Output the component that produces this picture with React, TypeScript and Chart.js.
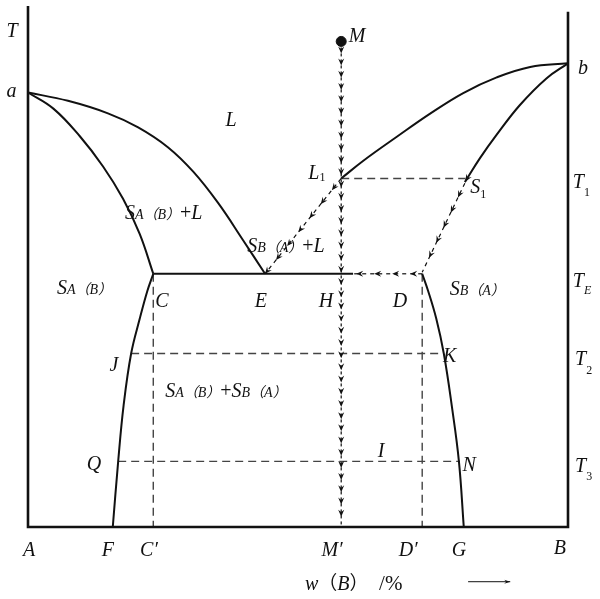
import React, { useEffect, useRef } from "react";
import { Chart, registerables } from "chart.js";
Chart.register(...registerables);

// ---- data (x: w(B)/%, y: temperature, arbitrary units) ----
const T_A = 83.4;
const T_B = 89.0;
const T_1 = 66.9;
const T_E = 48.6;
const T_2 = 33.3;
const T_3 = 12.6;
const T_M = 93.2;
const T_TOP_RIGHT = 98.9;

const xC = 23.2;
const xE = 43.9;
const xM = 58.0;
const xS1 = 81.0;
const xD = 73.0;
const xJ = 19.1;
const xK = 77.0;
const xQ = 16.7;
const xN = 80.0;
const xEutecticEnd = 60.2;

const liquidusLeft: [number, number][] = [
  [0, T_A], [7.4, 81.8], [14.8, 79.4], [20.4, 76.7], [25.9, 72.9],
  [30.6, 68.2], [35.2, 62.2], [39.8, 55.1], [xE, T_E],
];
const solidusLeft: [number, number][] = [
  [0, T_A], [4.7, 80.3], [9.6, 75.0], [13.9, 69.2], [17.6, 63.0], [20.7, 56.2], [xC, T_E],
];
const liquidusRight: [number, number][] = [
  [100, T_B], [93.0, 88.3], [86.8, 86.3], [80.6, 83.3], [74.4, 79.3],
  [68.3, 74.9], [62.1, 70.3], [xM, T_1],
];
const solidusRight: [number, number][] = [
  [100, T_B], [96.0, 86.1], [91.1, 81.0], [86.8, 75.3], [83.7, 70.8], [80.9, 66.2],
];
const solvusLeft: [number, number][] = [
  [xC, T_E], [22.1, 45.3], [20.7, 40.0], [19.1, 33.3], [17.7, 23.3], [16.7, 12.6], [15.7, 0],
];
const solvusRight: [number, number][] = [
  [xD, T_E], [74.1, 45.3], [75.6, 40.0], [77.0, 33.3], [78.5, 23.1], [79.8, 12.6], [80.7, 0],
];

type Seg = { t: string; s?: number; dy?: number; up?: boolean };
type Label = { x: number; y: number; c?: boolean; segs: Seg[] };
const SUB = 14;
const sub = (t: string): Seg => ({ t, s: SUB });
const labels: Label[] = [
  { x: -2.96, y: 94.07, c: true, segs: [{ t: "T" }] },
  { x: -3.06, y: 82.6, c: true, segs: [{ t: "a" }] },
  { x: 102.8, y: 87.0, c: true, segs: [{ t: "b" }] },
  { x: 37.6, y: 76.9, c: true, segs: [{ t: "L" }] },
  { x: 17.96, y: 59.2, segs: [{ t: "S" }, sub("A（B）"), { t: "+", up: true }, { t: "L" }] },
  { x: 40.6, y: 52.8, segs: [{ t: "S" }, sub("B（A）"), { t: "+", up: true }, { t: "L" }] },
  { x: 5.37, y: 44.7, segs: [{ t: "S" }, sub("A（B）")] },
  { x: 78.1, y: 44.6, segs: [{ t: "S" }, sub("B（A）")] },
  { x: 25.4, y: 24.9, segs: [{ t: "S" }, sub("A（B）"), { t: "+", up: true }, { t: "S" }, sub("B（A）")] },
  { x: 24.8, y: 42.3, c: true, segs: [{ t: "C" }] },
  { x: 43.1, y: 42.3, c: true, segs: [{ t: "E" }] },
  { x: 55.2, y: 42.3, c: true, segs: [{ t: "H" }] },
  { x: 68.9, y: 42.3, c: true, segs: [{ t: "D" }] },
  { x: 100.9, y: 65.0, segs: [{ t: "T" }, { t: "1", s: 12, dy: 8, up: true }] },
  { x: 100.9, y: 46.1, segs: [{ t: "T" }, { t: "E", s: 12, dy: 7 }] },
  { x: 101.3, y: 31.0, segs: [{ t: "T" }, { t: "2", s: 12, dy: 9, up: true }] },
  { x: 101.3, y: 10.5, segs: [{ t: "T" }, { t: "3", s: 12, dy: 8, up: true }] },
  { x: 59.4, y: 93.1, segs: [{ t: "M" }] },
  { x: 51.9, y: 66.7, segs: [{ t: "L" }, { t: "1", s: 12, dy: 2, up: true }] },
  { x: 81.9, y: 64.1, segs: [{ t: "S" }, { t: "1", s: 12, dy: 5, up: true }] },
  { x: 15.9, y: 30.0, c: true, segs: [{ t: "J" }] },
  { x: 78.1, y: 31.7, c: true, segs: [{ t: "K" }] },
  { x: 12.2, y: 10.9, c: true, segs: [{ t: "Q" }] },
  { x: 65.4, y: 13.4, c: true, segs: [{ t: "I" }] },
  { x: 81.7, y: 10.7, c: true, segs: [{ t: "N" }] },
  { x: 0.2, y: -5.5, c: true, segs: [{ t: "A" }] },
  { x: 14.8, y: -5.5, c: true, segs: [{ t: "F" }] },
  { x: 22.4, y: -5.5, c: true, segs: [{ t: "C′" }] },
  { x: 56.3, y: -5.5, c: true, segs: [{ t: "M′" }] },
  { x: 70.4, y: -5.5, c: true, segs: [{ t: "D′" }] },
  { x: 79.8, y: -5.5, c: true, segs: [{ t: "G" }] },
  { x: 98.5, y: -5.2, c: true, segs: [{ t: "B" }] },
  { x: 51.3, y: -12.0, segs: [{ t: "w", s: 20 }, { t: "（", s: 19, up: true }, { t: "B", s: 20 }, { t: "）", s: 19, up: true }, { t: "  /%", s: 21, up: true }] },
];
const directionArrow: [number, number][] = [[81.5, -10.5], [89.3, -10.5]];

const pts = (a: [number, number][]) => a.map(([x, y]) => ({ x, y }));
const INK = "#111";
const DASH = "#444";

function drawHead(ctx: CanvasRenderingContext2D, x: number, y: number, ang: number, L: number, W: number) {
  ctx.save();
  ctx.translate(x, y);
  ctx.rotate(ang);
  ctx.beginPath();
  ctx.moveTo(0, 0);
  ctx.lineTo(-L, -W);
  ctx.lineTo(-L * 0.65, 0);
  ctx.lineTo(-L, W);
  ctx.closePath();
  ctx.fill();
  ctx.restore();
}

const arrowPlugin = {
  id: "arrowheads",
  afterDatasetsDraw(chart: any) {
    const ctx: CanvasRenderingContext2D = chart.ctx;
    chart.data.datasets.forEach((ds: any, i: number) => {
      const o = ds.arrows;
      if (!o) return;
      const meta = chart.getDatasetMeta(i);
      const p = meta.data.map((e: any) => ({ x: e.x, y: e.y, cx: e.cp1x, cy: e.cp1y }));
      const segs: any[] = [];
      let total = 0;
      for (let k = 1; k < p.length; k++) {
        const len = Math.hypot(p[k].x - p[k - 1].x, p[k].y - p[k - 1].y);
        segs.push({ a: p[k - 1], b: p[k], len, s: total });
        total += len;
      }
      ctx.save();
      ctx.fillStyle = o.color || INK;
      const L = o.len || 7, W = o.w || 3;
      if (o.spacing) {
        for (let d = o.start; d <= total + 0.5; d += o.spacing) {
          const sg = segs.find((g) => d <= g.s + g.len + 0.5) || segs[segs.length - 1];
          const t = Math.min(1, (d - sg.s) / sg.len);
          const x = sg.a.x + (sg.b.x - sg.a.x) * t;
          const y = sg.a.y + (sg.b.y - sg.a.y) * t;
          drawHead(ctx, x, y, Math.atan2(sg.b.y - sg.a.y, sg.b.x - sg.a.x), L, W);
        }
      }
      if (o.end) {
        const last = p[p.length - 1];
        const prev = p[p.length - 2];
        let ang = Math.atan2(last.y - prev.y, last.x - prev.x);
        if (last.cx != null && isFinite(last.cx) && (last.cx !== last.x || last.cy !== last.y)) {
          ang = Math.atan2(last.y - last.cy, last.x - last.cx);
        }
        drawHead(ctx, last.x, last.y, ang, L, W);
      }
      ctx.restore();
    });
  },
};

const labelPlugin = {
  id: "phaseLabels",
  afterDraw(chart: any) {
    const ctx: CanvasRenderingContext2D = chart.ctx;
    const xs = chart.scales.x, ys = chart.scales.y;
    ctx.save();
    ctx.fillStyle = INK;
    ctx.textBaseline = "alphabetic";
    ctx.textAlign = "left";
    const font = (g: Seg) =>
      `${g.up ? "normal" : "italic"} ${g.s || 20}px "Liberation Serif", "Noto Sans CJK SC", serif`;
    labels.forEach((lb) => {
      let w = 0;
      lb.segs.forEach((g) => {
        ctx.font = font(g);
        w += ctx.measureText(g.t).width;
      });
      let x = xs.getPixelForValue(lb.x) - (lb.c ? w / 2 : 0);
      const y = ys.getPixelForValue(lb.y);
      lb.segs.forEach((g) => {
        ctx.font = font(g);
        ctx.fillText(g.t, x, y + (g.dy || 0));
        x += ctx.measureText(g.t).width;
      });
    });
    ctx.restore();
  },
};

export default function App() {
  const ref = useRef<HTMLCanvasElement>(null);
  useEffect(() => {
    if (!ref.current) return;
    const solid = (data: any[], extra: any = {}) => ({
      data, showLine: true, borderColor: INK, borderWidth: 2, pointRadius: 0, tension: 0.4, clip: false, ...extra,
    });
    const straight = (data: any[], extra: any = {}) => ({
      data, showLine: true, borderColor: INK, borderWidth: 2, pointRadius: 0, tension: 0, clip: false, ...extra,
    });
    const dashed = (data: any[], extra: any = {}) => ({
      data, showLine: true, borderColor: DASH, borderWidth: 1.4, borderDash: [8, 5], pointRadius: 0, tension: 0, clip: false, ...extra,
    });
    const datasets: any[] = [
      // frame
      straight(pts([[0, 100], [0, 0], [100, 0], [100, T_TOP_RIGHT]]), { borderWidth: 2.6 }),
      // phase boundaries
      solid(pts(liquidusLeft)),
      solid(pts(solidusLeft)),
      solid(pts(liquidusRight)),
      solid(pts(solidusRight), { arrows: { end: true, len: 8, w: 3 } }),
      solid(pts(solvusLeft)),
      solid(pts(solvusRight)),
      straight(pts([[xC, T_E], [xEutecticEnd, T_E]])),
      // tie lines
      dashed(pts([[xM, T_1], [xS1, T_1]])),
      dashed(pts([[xJ, T_2], [xK, T_2]])),
      dashed(pts([[xQ, T_3], [xN, T_3]])),
      dashed(pts([[xC, T_E], [xC, 0]])),
      dashed(pts([[xD, T_E], [xD, 0]])),
      // cooling paths with arrows
      dashed(pts([[xM, T_M], [xM, 0]]), { borderColor: INK, borderWidth: 1.2, borderDash: [3, 3], arrows: { start: 12, spacing: 12.19, len: 7, w: 3 } }),
      dashed(pts([[xM, T_1], [xE, T_E]]), { borderColor: INK, borderWidth: 1.2, borderDash: [4, 4], arrows: { start: 15, spacing: 17.9, len: 7, w: 3 } }),
      dashed(pts([[80.9, 66.0], [xD, 48.9]]), { borderColor: INK, borderWidth: 1.2, borderDash: [4, 4], arrows: { start: 16, spacing: 16.7, len: 7, w: 3 } }),
      dashed(pts([[xD, T_E], [xEutecticEnd, T_E]]), { borderColor: INK, borderWidth: 1.2, borderDash: [4, 4], arrows: { start: 12, spacing: 18, len: 7, w: 3 } }),
      // composition direction arrow
      straight(pts(directionArrow), { borderWidth: 1, arrows: { end: true, len: 6, w: 2 } }),
      // starting point M
      { data: [{ x: xM, y: T_M }], pointRadius: 5, pointBackgroundColor: INK, pointBorderColor: INK, showLine: false, clip: false },
    ];
    const chart = new Chart(ref.current, {
      type: "scatter",
      data: { datasets },
      options: {
        animation: false,
        responsive: false,
        maintainAspectRatio: false,
        events: [],
        layout: { padding: { left: 28, right: 32, top: 4, bottom: 72 } },
        scales: {
          x: { type: "linear", min: 0, max: 100, display: false },
          y: { type: "linear", min: 0, max: 100, display: false },
        },
        plugins: { legend: { display: false }, tooltip: { enabled: false } },
      } as any,
      plugins: [arrowPlugin, labelPlugin],
    });
    return () => chart.destroy();
  }, []);
  return (
    <div style={{ position: "absolute", left: 0, top: 0, width: 600, height: 599, background: "#fff" }}>
      <canvas ref={ref} width={600} height={599} style={{ display: "block" }} />
    </div>
  );
}
